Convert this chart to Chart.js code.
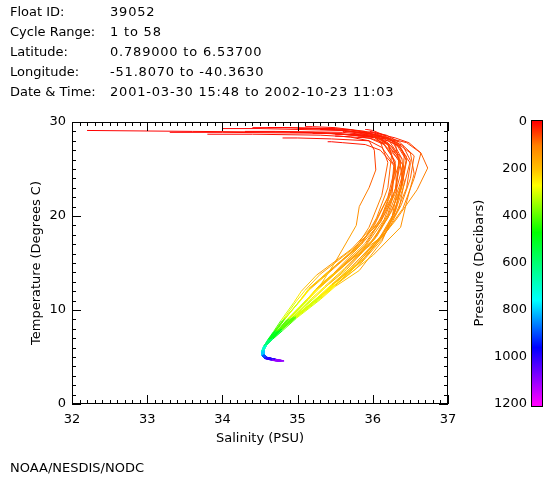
<!doctype html>
<html lang="en">
<head>
<meta charset="utf-8">
<title>Float 39052 - Temperature vs Salinity</title>
<script src="https://cdn.jsdelivr.net/npm/chart.js@4.4.1/dist/chart.umd.min.js"></script>
<style>
  * { margin: 0; padding: 0; box-sizing: border-box; }
  html, body { width: 560px; height: 480px; background: #fff; overflow: hidden; }
  .wrapper { position: relative; width: 560px; height: 480px; font-family: "DejaVu Sans", sans-serif; font-size: 13px; color: #000; }
  #canvas { position: absolute; left: 0; top: 0; }
  .info { position: absolute; left: 10px; top: 2px; line-height: 20px; white-space: nowrap; }
  .info .lab { display: inline-block; width: 100px; }
  .info .val { letter-spacing: 0.8px; }
  .credit { position: absolute; left: 10px; top: 458px; line-height: 20px; }
</style>
</head>
<body>
<div class="wrapper">
  <canvas id="canvas" width="560" height="480"></canvas>
  <div class="info">
    <div><span class="lab">Float ID:</span><span class="val">39052</span></div>
    <div><span class="lab">Cycle Range:</span><span class="val">1 to 58</span></div>
    <div><span class="lab">Latitude:</span><span class="val">0.789000 to 6.53700</span></div>
    <div><span class="lab">Longitude:</span><span class="val">-51.8070 to -40.3630</span></div>
    <div><span class="lab">Date &amp; Time:</span><span class="val">2001-03-30 15:48 to 2002-10-23 11:03</span></div>
  </div>
  <div class="credit">NOAA/NESDIS/NODC</div>
</div>

<script>
// pressure levels (decibars) shared by every profile
var pressure = [0, 10, 20, 35, 50, 75, 100, 125, 150, 200, 250, 300, 400, 500, 600, 700, 800, 900, 1000, 1100, 1200];

// salinity (PSU), one row per profile
var salinity = [
  [32.2, 33.6, 35.2, 36.0, 36.15, 36.3, 36.25, 36.1, 35.85, 35.42, 35.18, 35.05, 34.83, 34.71, 34.62, 34.55, 34.52, 34.53, 34.56, 34.66, 34.76],
  [33.3, 34.0, 35.4, 36.05, 36.2, 36.4, 36.38, 36.28, 36.12, 35.78, 35.5, 35.3, 34.98, 34.79, 34.67, 34.58, 34.54, 34.55, 34.58, 34.7, 34.8],
  [34.0, 34.5, 35.6, 36.1, 36.3, 36.45, 36.4, 36.25, 36.05, 35.68, 35.42, 35.24, 34.95, 34.78, 34.67, 34.59, 34.54, 34.55, 34.59, 34.71, 34.82],
  [34.6, 34.9, 35.7, 36.0, 36.2, 36.3, 36.25, 36.05, 35.75, 35.3, 35.1, 34.98, 34.8, 34.69, 34.61, 34.55, 34.52, 34.53, 34.56, 34.65, 34.74],
  [35.1, 35.2, 35.5, 35.9, 36.1, 36.25, 36.2, 36.05, 35.85, 35.48, 35.24, 35.1, 34.86, 34.72, 34.62, 34.55, 34.52, 34.53, 34.57, 34.67, 34.77],
  [35.4, 35.45, 35.6, 35.9, 36.1, 36.3, 36.32, 36.25, 36.12, 35.82, 35.5, 35.3, 34.98, 34.8, 34.67, 34.58, 34.54, 34.54, 34.57, 34.68, 34.78],
  [35.8, 35.8, 35.85, 36.0, 36.2, 36.35, 36.3, 36.12, 35.9, 35.5, 35.26, 35.12, 34.88, 34.74, 34.64, 34.57, 34.53, 34.54, 34.58, 34.69, 34.79],
  [36.0, 36.0, 36.05, 36.2, 36.45, 36.64, 36.73, 36.59, 36.3, 35.9, 35.55, 35.3, 34.97, 34.79, 34.67, 34.59, 34.55, 34.55, 34.59, 34.7, 34.8],
  [35.95, 35.95, 36.0, 36.15, 36.3, 36.5, 36.55, 36.45, 36.37, 36.0, 35.6, 35.32, 34.98, 34.79, 34.67, 34.59, 34.55, 34.55, 34.6, 34.71, 34.81],
  [35.5, 35.55, 35.7, 35.95, 36.02, 36.04, 35.95, 35.82, 35.78, 35.5, 35.3, 35.12, 34.88, 34.74, 34.64, 34.57, 34.53, 34.54, 34.57, 34.67, 34.77],
  [35.85, 35.9, 36.05, 36.3, 36.48, 36.64, 36.55, 36.4, 36.15, 35.62, 35.3, 35.15, 34.9, 34.75, 34.65, 34.58, 34.54, 34.55, 34.58, 34.69, 34.79],
  [35.3, 35.35, 35.6, 36.0, 36.15, 36.35, 36.4, 36.28, 36.1, 35.72, 35.45, 35.26, 34.95, 34.77, 34.65, 34.58, 34.53, 34.54, 34.58, 34.68, 34.78],
  [34.9, 35.0, 35.5, 36.05, 36.25, 36.4, 36.3, 36.1, 35.85, 35.4, 35.15, 35.03, 34.82, 34.71, 34.62, 34.56, 34.53, 34.53, 34.57, 34.66, 34.75],
  [36.05, 36.05, 36.08, 36.2, 36.35, 36.45, 36.35, 36.2, 36.02, 35.65, 35.38, 35.2, 34.93, 34.77, 34.65, 34.58, 34.54, 34.55, 34.59, 34.7, 34.8],
  [35.6, 35.62, 35.75, 36.05, 36.2, 36.3, 36.2, 36.0, 35.72, 35.25, 35.05, 34.95, 34.78, 34.68, 34.6, 34.55, 34.52, 34.53, 34.56, 34.65, 34.74],
  [33.8, 34.4, 35.3, 35.95, 36.15, 36.35, 36.42, 36.35, 36.15, 35.8, 35.5, 35.3, 34.97, 34.79, 34.66, 34.58, 34.54, 34.55, 34.59, 34.7, 34.8],
  [35.7, 35.75, 35.9, 36.15, 36.35, 36.5, 36.45, 36.3, 36.1, 35.72, 35.45, 35.26, 34.95, 34.78, 34.67, 34.59, 34.55, 34.55, 34.6, 34.72, 34.82],
  [35.0, 35.1, 35.5, 35.95, 36.1, 36.2, 36.12, 35.95, 35.75, 35.35, 35.12, 35.0, 34.81, 34.7, 34.61, 34.55, 34.52, 34.53, 34.56, 34.64, 34.72],
  [34.3, 34.7, 35.6, 36.1, 36.3, 36.45, 36.38, 36.2, 35.98, 35.55, 35.3, 35.14, 34.89, 34.74, 34.64, 34.57, 34.53, 34.54, 34.57, 34.67, 34.77],
  [35.2, 35.3, 35.65, 36.1, 36.35, 36.55, 36.5, 36.38, 36.2, 35.85, 35.52, 35.32, 34.98, 34.79, 34.67, 34.59, 34.55, 34.55, 34.6, 34.71, 34.81],
  [35.9, 35.92, 36.0, 36.12, 36.25, 36.38, 36.3, 36.15, 35.92, 35.5, 35.25, 35.1, 34.87, 34.73, 34.63, 34.56, 34.52, 34.53, 34.57, 34.67, 34.77],
  [34.4, 34.8, 35.5, 36.0, 36.2, 36.35, 36.32, 36.2, 36.02, 35.62, 35.36, 35.18, 34.91, 34.75, 34.65, 34.57, 34.53, 34.54, 34.58, 34.68, 34.78],
  [36.1, 36.1, 36.12, 36.22, 36.3, 36.35, 36.22, 36.02, 35.8, 35.38, 35.15, 35.02, 34.82, 34.7, 34.61, 34.55, 34.52, 34.53, 34.56, 34.65, 34.75],
  [35.5, 35.55, 35.8, 36.2, 36.4, 36.5, 36.42, 36.3, 36.12, 35.78, 35.48, 35.28, 34.96, 34.78, 34.66, 34.58, 34.54, 34.55, 34.59, 34.7, 34.8],
  [34.8, 35.0, 35.45, 35.95, 36.12, 36.28, 36.25, 36.1, 35.9, 35.5, 35.26, 35.12, 34.88, 34.74, 34.64, 34.57, 34.53, 34.54, 34.57, 34.67, 34.77],
  [35.95, 35.96, 36.02, 36.18, 36.32, 36.42, 36.4, 36.32, 36.2, 35.85, 35.55, 35.33, 34.99, 34.8, 34.68, 34.59, 34.55, 34.55, 34.6, 34.72, 34.82]
];

// temperature (deg C), same rows and levels
var temperature = [
  [29.1, 29.0, 28.9, 28.5, 27.6, 25.8, 22.8, 19.6, 17.2, 14.1, 12.4, 11.1, 9.1, 7.9, 6.9, 6.2, 5.6, 5.2, 4.9, 4.7, 4.55],
  [28.9, 28.9, 28.8, 28.4, 27.8, 26.0, 23.2, 20.0, 17.5, 14.4, 12.6, 11.2, 9.2, 7.9, 7.0, 6.3, 5.7, 5.3, 5.0, 4.75, 4.6],
  [29.3, 29.3, 29.1, 28.6, 27.9, 26.3, 23.8, 20.5, 17.8, 14.7, 12.8, 11.4, 9.3, 8.0, 7.0, 6.3, 5.7, 5.3, 4.95, 4.7, 4.55],
  [29.4, 29.4, 29.2, 28.7, 27.7, 25.4, 22.0, 19.0, 16.6, 13.8, 12.1, 10.9, 8.9, 7.7, 6.8, 6.1, 5.55, 5.15, 4.85, 4.7, 4.55],
  [29.5, 29.5, 29.4, 29.0, 28.2, 26.5, 23.0, 19.8, 17.0, 13.9, 12.2, 10.9, 9.0, 7.7, 6.8, 6.1, 5.5, 5.1, 4.85, 4.7, 4.55],
  [27.9, 27.9, 27.8, 27.6, 27.0, 25.2, 22.5, 19.6, 17.3, 14.2, 12.5, 11.1, 9.1, 7.8, 6.9, 6.2, 5.6, 5.2, 4.9, 4.7, 4.55],
  [28.4, 28.4, 28.4, 28.2, 27.6, 25.8, 22.8, 19.7, 17.1, 14.0, 12.3, 11.0, 9.0, 7.8, 6.9, 6.2, 5.6, 5.2, 4.9, 4.7, 4.55],
  [28.6, 28.6, 28.5, 28.3, 27.8, 26.7, 25.1, 22.8, 19.5, 15.6, 13.0, 11.5, 9.3, 8.0, 7.0, 6.3, 5.7, 5.25, 4.95, 4.75, 4.6],
  [28.8, 28.8, 28.7, 28.4, 27.9, 26.7, 24.5, 21.5, 18.8, 15.8, 13.3, 11.6, 9.4, 8.0, 7.0, 6.3, 5.7, 5.25, 4.95, 4.75, 4.6],
  [28.5, 28.5, 28.4, 28.0, 27.0, 24.9, 23.0, 21.0, 19.0, 15.1, 12.6, 11.1, 9.1, 7.8, 6.9, 6.2, 5.6, 5.2, 4.9, 4.7, 4.55],
  [28.9, 28.9, 28.8, 28.3, 27.8, 26.7, 24.0, 20.8, 18.0, 14.8, 12.7, 11.3, 9.2, 7.9, 7.0, 6.3, 5.7, 5.25, 4.95, 4.72, 4.57],
  [29.2, 29.2, 29.1, 28.7, 28.0, 26.2, 23.5, 20.3, 17.8, 14.6, 12.6, 11.2, 9.2, 7.9, 6.95, 6.25, 5.65, 5.2, 4.9, 4.7, 4.55],
  [28.9, 28.9, 28.8, 28.3, 27.4, 25.4, 22.4, 19.3, 17.0, 14.0, 12.3, 11.0, 9.0, 7.8, 6.9, 6.2, 5.6, 5.2, 4.9, 4.7, 4.55],
  [28.2, 28.2, 28.2, 28.0, 27.5, 25.9, 23.1, 20.0, 17.5, 14.3, 12.5, 11.2, 9.2, 7.9, 6.95, 6.25, 5.65, 5.2, 4.9, 4.7, 4.56],
  [29.0, 29.0, 28.9, 28.5, 27.6, 25.3, 22.0, 18.9, 16.5, 13.7, 12.0, 10.8, 8.9, 7.7, 6.8, 6.1, 5.55, 5.15, 4.85, 4.68, 4.55],
  [28.7, 28.7, 28.6, 28.3, 27.6, 26.0, 23.6, 20.8, 18.3, 15.0, 12.9, 11.4, 9.3, 8.0, 7.0, 6.3, 5.7, 5.25, 4.95, 4.73, 4.58],
  [28.7, 28.7, 28.6, 28.2, 27.4, 25.6, 23.0, 20.1, 17.7, 14.6, 12.7, 11.3, 9.2, 7.9, 7.0, 6.3, 5.7, 5.25, 4.95, 4.72, 4.58],
  [29.3, 29.3, 29.2, 28.8, 27.9, 25.7, 22.2, 18.8, 16.3, 13.5, 11.9, 10.7, 8.8, 7.6, 6.75, 6.1, 5.5, 5.1, 4.85, 4.68, 4.55],
  [29.0, 29.0, 28.9, 28.5, 27.8, 25.9, 22.9, 19.8, 17.3, 14.2, 12.4, 11.1, 9.1, 7.85, 6.9, 6.2, 5.6, 5.2, 4.9, 4.7, 4.55],
  [28.8, 28.8, 28.7, 28.4, 27.9, 26.4, 24.0, 21.2, 18.5, 15.2, 13.0, 11.5, 9.3, 8.0, 7.0, 6.3, 5.7, 5.25, 4.95, 4.75, 4.6],
  [29.2, 29.2, 29.1, 28.7, 28.1, 26.2, 22.9, 19.6, 17.0, 13.9, 12.2, 10.9, 9.0, 7.75, 6.85, 6.15, 5.55, 5.15, 4.88, 4.7, 4.55],
  [29.4, 29.4, 29.3, 28.9, 28.2, 26.4, 23.4, 20.2, 17.6, 14.4, 12.5, 11.2, 9.1, 7.85, 6.9, 6.2, 5.6, 5.2, 4.9, 4.7, 4.55],
  [28.5, 28.5, 28.5, 28.3, 27.7, 25.6, 22.3, 19.0, 16.7, 13.9, 12.2, 10.9, 8.95, 7.75, 6.85, 6.15, 5.55, 5.15, 4.87, 4.7, 4.55],
  [28.7, 28.7, 28.6, 28.2, 27.5, 25.9, 23.4, 20.5, 17.9, 14.8, 12.8, 11.3, 9.2, 7.9, 7.0, 6.3, 5.7, 5.25, 4.95, 4.73, 4.58],
  [28.3, 28.3, 28.2, 28.0, 27.3, 25.5, 22.6, 19.4, 16.9, 13.9, 12.2, 11.0, 9.0, 7.8, 6.9, 6.2, 5.6, 5.2, 4.9, 4.7, 4.55],
  [29.0, 29.0, 28.9, 28.6, 28.0, 26.6, 24.3, 21.4, 18.6, 15.2, 13.0, 11.5, 9.3, 8.0, 7.0, 6.3, 5.7, 5.25, 4.95, 4.75, 4.6]
];

var salinityTicks = [32, 33, 34, 35, 36, 37];
var temperatureTicks = [0, 10, 20, 30];
var pressureTicks = [0, 200, 400, 600, 800, 1000, 1200];

// colour table: hue stops against pressure
var colorStops = [0, 40, 100, 200, 270, 470, 760, 960, 1200];
var colorHues = [0, 12, 30, 45, 60, 120, 180, 240, 300];

function pressureColor(p) {
  for (var i = 1; i < colorStops.length; i++) {
    if (p <= colorStops[i]) {
      var f = (p - colorStops[i - 1]) / (colorStops[i] - colorStops[i - 1]);
      var h = colorHues[i - 1] + f * (colorHues[i] - colorHues[i - 1]);
      return 'hsl(' + h.toFixed(1) + ',100%,50%)';
    }
  }
  return 'hsl(300,100%,50%)';
}

var FONT = { family: 'DejaVu Sans', size: 13 };

var datasets = salinity.map(function (row, k) {
  return {
    data: row.map(function (s, i) { return { x: s, y: temperature[k][i] }; }),
    showLine: true,
    pointRadius: 0,
    borderWidth: 1,
    borderColor: pressureColor(0),
    segment: {
      borderColor: function (c) { return pressureColor(pressure[c.p0DataIndex]); }
    }
  };
});

// inward ticks on all four sides, plus the pressure colour bar
var frameAndBar = {
  id: 'frameAndBar',
  afterDraw: function (chart) {
    var ctx = chart.ctx, a = chart.chartArea;
    var xs = chart.scales.x, ys = chart.scales.y, ps = chart.scales.p;
    ctx.save();
    ctx.strokeStyle = '#000';
    ctx.lineWidth = 1;
    ctx.strokeRect(a.left + 0.5, a.top + 0.5, a.right - a.left - 1, a.bottom - a.top - 1);
    ctx.beginPath();
    var x0 = salinityTicks[0], x1 = salinityTicks[salinityTicks.length - 1];
    for (var i = 0; i <= (x1 - x0) * 10; i++) {
      var px = Math.round(xs.getPixelForValue(x0 + i / 10)) + 0.5;
      var len = i % 10 === 0 ? 9 : 4;
      ctx.moveTo(px, a.bottom); ctx.lineTo(px, a.bottom - len);
      ctx.moveTo(px, a.top); ctx.lineTo(px, a.top + len);
    }
    var y0 = temperatureTicks[0], y1 = temperatureTicks[temperatureTicks.length - 1];
    for (var j = y0; j <= y1; j++) {
      var py = Math.round(ys.getPixelForValue(j)) + 0.5;
      var l2 = j % 10 === 0 ? 9 : 4;
      ctx.moveTo(a.left, py); ctx.lineTo(a.left + l2, py);
      ctx.moveTo(a.right, py); ctx.lineTo(a.right - l2, py);
    }
    ctx.stroke();

    // colour bar
    var bx = 531, bw = 12;
    var top = ps.getPixelForValue(0), bot = ps.getPixelForValue(1200);
    var g = ctx.createLinearGradient(0, top, 0, bot);
    colorStops.forEach(function (p) { g.addColorStop(p / 1200, pressureColor(p)); });
    ctx.fillStyle = g;
    ctx.fillRect(bx, top - 1, bw, bot - top + 3);
    ctx.strokeRect(bx + 0.5, top - 1.5, bw - 1, bot - top + 4);

    ctx.fillStyle = '#000';
    ctx.font = '13px "DejaVu Sans"';
    ctx.textAlign = 'right';
    ctx.textBaseline = 'middle';
    pressureTicks.forEach(function (p) {
      ctx.fillText(String(p), 527, ps.getPixelForValue(p));
    });
    ctx.translate(480, (top + bot) / 2);
    ctx.rotate(-Math.PI / 2);
    ctx.textAlign = 'center';
    ctx.fillText('Pressure (Decibars)', 0, 0);
    ctx.restore();
  }
};

var chart = new Chart(document.getElementById('canvas'), {
  type: 'scatter',
  data: { datasets: datasets },
  options: {
    responsive: false,
    animation: false,
    devicePixelRatio: 1,
    layout: { padding: { left: 0, top: 122, right: 112, bottom: 0 } },
    plugins: { legend: { display: false }, tooltip: { enabled: false } },
    scales: {
      x: {
        type: 'linear',
        min: salinityTicks[0],
        max: salinityTicks[salinityTicks.length - 1],
        afterFit: function (s) { s.height = 76; },
        afterBuildTicks: function (s) { s.ticks = salinityTicks.map(function (v) { return { value: v }; }); },
        grid: { display: false, drawTicks: false },
        border: { display: false },
        ticks: { color: '#000', font: FONT, padding: 8, maxRotation: 0 },
        title: { display: true, text: 'Salinity (PSU)', color: '#000', font: FONT, padding: { top: 0, bottom: 34 } }
      },
      y: {
        type: 'linear',
        min: temperatureTicks[0],
        max: temperatureTicks[temperatureTicks.length - 1],
        afterFit: function (s) { s.width = 72; },
        afterBuildTicks: function (s) { s.ticks = temperatureTicks.map(function (v) { return { value: v }; }); },
        grid: { display: false, drawTicks: false },
        border: { display: false },
        ticks: { color: '#000', font: FONT, padding: 6 },
        title: { display: true, text: 'Temperature (Degrees C)', color: '#000', font: FONT, padding: { top: 29, bottom: 0 } }
      },
      p: {
        type: 'linear',
        position: 'right',
        display: false,
        reverse: true,
        min: pressureTicks[0],
        max: pressureTicks[pressureTicks.length - 1]
      }
    }
  },
  plugins: [frameAndBar]
});
</script>
</body>
</html>
